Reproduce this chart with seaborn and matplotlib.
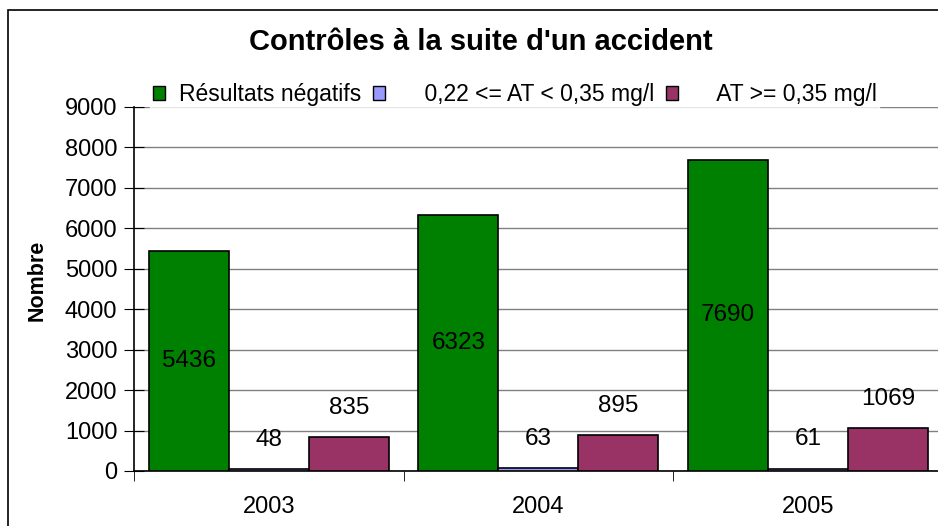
import pandas as pd
import matplotlib.pyplot as plt
import seaborn as sns
from matplotlib.patches import Rectangle

years = ["2003", "2004", "2005"]
series = ["Résultats négatifs", "0,22 <= AT < 0,35 mg/l", "AT >= 0,35 mg/l"]
negatifs = [5436, 6323, 7690]
at_mid = [48, 63, 61]
at_high = [835, 895, 1069]
colors = ["#008000", "#9999FF", "#993366"]

df = pd.DataFrame({
    "Année": years * 3,
    "Série": [series[0]] * 3 + [series[1]] * 3 + [series[2]] * 3,
    "Nombre": negatifs + at_mid + at_high,
})

sns.set_style("white")
plt.rcParams["font.family"] = ["Liberation Sans", "DejaVu Sans"]
plt.rcParams.update({"text.color": "black", "axes.labelcolor": "black",
                     "xtick.color": "black", "ytick.color": "black"})

fig = plt.figure(figsize=(9.38, 5.26), dpi=100)
ax = fig.add_axes([0.1429, 0.1046, 0.862, 0.692])

sns.barplot(data=df, x="Année", y="Nombre", hue="Série", palette=colors,
            width=0.89, gap=0, edgecolor="black", linewidth=1.2,
            saturation=1, ax=ax, zorder=3)

ax.set_ylim(0, 9000)
ax.set_yticks(range(0, 9001, 1000))
ax.yaxis.grid(True, color="#808080", linewidth=1, zorder=0)
ax.tick_params(axis="y", labelsize=17, length=14, direction="inout",
               left=True, pad=5)
ax.tick_params(axis="x", labelsize=17, length=0, pad=18)
ax.set_xticks([-0.5, 0.5, 1.5, 2.5], minor=True)
ax.tick_params(axis="x", which="minor", length=7, direction="out",
               bottom=True)
ax.set_xlim(-0.5, 2.5)
for s in ["top", "right"]:
    ax.spines[s].set_visible(False)
for s in ["left", "bottom"]:
    ax.spines[s].set_color("black")
    ax.spines[s].set_linewidth(1.2)
ax.set_xlabel("")
ax.set_ylabel("Nombre", fontsize=15.5, fontweight="bold")
ax.yaxis.set_label_coords(-0.107, 0.525)

# data labels
for i, cont in enumerate(ax.containers):
    for bar in cont:
        h = bar.get_height()
        xc = bar.get_x() + bar.get_width() / 2
        if i == 0:
            ax.text(xc, h / 2, f"{int(h)}", ha="center", va="center",
                    fontsize=17.5, zorder=5)
        else:
            ax.annotate(f"{int(h)}", (xc, h), xytext=(0, 21),
                        textcoords="offset points", ha="center",
                        va="center", fontsize=17.5, zorder=5)

handles, labels = ax.get_legend_handles_labels()
labels = [labels[0]] + ["    " + l for l in labels[1:]]
leg = ax.legend(handles, labels, loc="center", bbox_to_anchor=(0.471, 1.033),
                ncol=3, frameon=True, fontsize=16.5, handlelength=0.55,
                handleheight=0.55, handletextpad=0.6, columnspacing=0.5,
                borderpad=0.1, edgecolor="white", fancybox=False)
leg.get_frame().set_facecolor("white")
leg.set_zorder(6)
for h in leg.legend_handles:
    h.set_edgecolor("black")
    h.set_linewidth(1)

fig.text(0.513, 0.92, "Contrôles à la suite d'un accident",
         ha="center", va="center", fontsize=21, fontweight="bold")

fig.patches.append(Rectangle((8 / 938, -0.1), 1.2, (516 / 526) + 0.1,
                             transform=fig.transFigure, fill=False,
                             edgecolor="black", linewidth=1.2))

fig.savefig("out.png", dpi=100)
